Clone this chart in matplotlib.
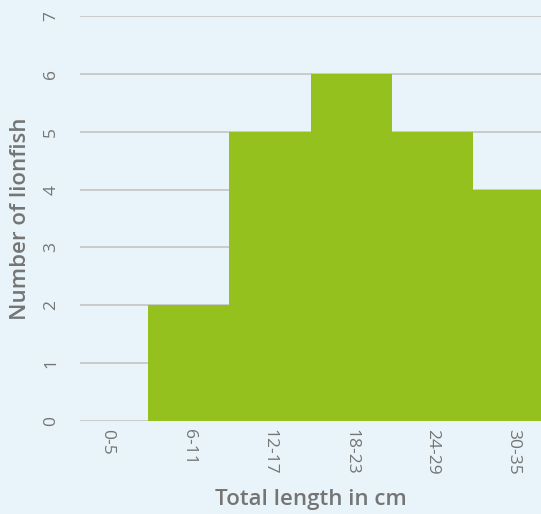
import matplotlib
matplotlib.use("Agg")
import matplotlib.pyplot as plt

# 数据
length_bins = ["0-5", "6-11", "12-17", "18-23", "24-29", "30-35"]
lionfish_counts = [0, 2, 5, 6, 5, 4]
y_ticks = [0, 1, 2, 3, 4, 5, 6, 7]

bg_color = "#e8f4f9"
bar_color = "#95c11f"
text_color = "#757575"
grid_color = "#c4c4c4"

plt.rcParams["font.family"] = ["Open Sans", "DejaVu Sans"]

fig = plt.figure(figsize=(5.41, 5.14), dpi=100)
fig.patch.set_facecolor(bg_color)
ax = fig.add_axes([80 / 541, 1 - 421 / 514, 1 - 80 / 541, (421 - 16) / 514])
ax.set_facecolor(bg_color)

x = list(range(len(length_bins)))
ax.bar(x, lionfish_counts, width=1.0, color=bar_color, zorder=3, linewidth=0)

ax.set_xlim(-0.34, 5.34)
ax.set_ylim(0, 7)
ax.set_yticks(y_ticks)
ax.set_xticks(x)
ax.set_xticklabels(length_bins, rotation=270, color=text_color, fontsize=12.5)
ax.set_yticklabels([str(v) for v in y_ticks], rotation=90, color=text_color,
                   fontsize=12.5, va="center")

ax.set_axisbelow(True)
ax.yaxis.grid(True, color=grid_color, linewidth=1.2, zorder=0)
ax.xaxis.grid(False)
for side in ["top", "right", "left", "bottom"]:
    ax.spines[side].set_visible(False)
ax.tick_params(axis="both", length=0)
ax.tick_params(axis="y", pad=15)
ax.tick_params(axis="x", pad=6)

ax.set_xlabel("Total length in cm", color=text_color, fontsize=16,
              fontweight="semibold", labelpad=10)
ax.set_ylabel("Number of lionfish", color=text_color, fontsize=16,
              fontweight="semibold", labelpad=9)

fig.savefig("out.png", dpi=100, facecolor=bg_color)
